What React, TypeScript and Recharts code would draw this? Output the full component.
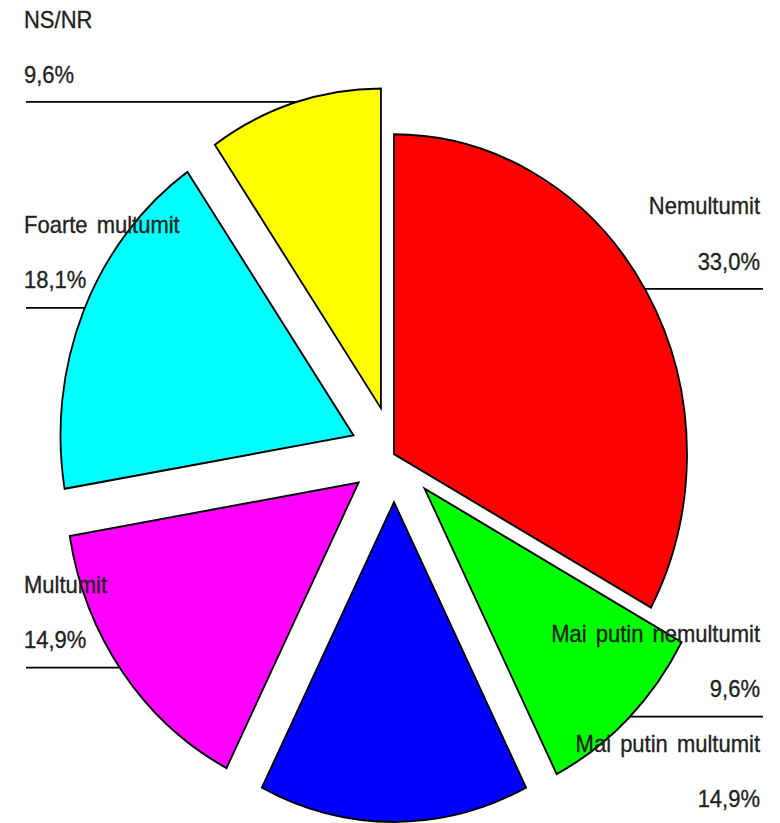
import { PieChart, Pie, Cell, Sector } from 'recharts';

const categories = [
  'Nemultumit',
  'Mai putin nemultumit',
  'Mai putin multumit',
  'Multumit',
  'Foarte multumit',
  'NS/NR',
];
const shares = [33.0, 9.6, 14.9, 14.9, 18.1, 9.6];
const colors = ['#ff0000', '#00ff00', '#0000ff', '#ff00ff', '#00ffff', '#ffff00'];

const data = categories.map((name, i) => ({ name, value: shares[i] }));

// the source image is stretched vertically, so the whole chart is drawn round and scaled
const STRETCH = 823 / 754;
const RAD = Math.PI / 180;
const EXPLODE = [0, 44, 44, 44, 44, 44];
const LABELS = [
  { side: 'right', lineY: 264.7 },
  { side: 'right', lineY: 656.6 },
  { side: 'right', lineY: 757 },
  { side: 'left', lineY: 611.7 },
  { side: 'left', lineY: 282 },
  { side: 'left', lineY: 93.4 },
];

const indexOf = (p: any) => categories.indexOf(p.payload?.name ?? p.name);

const shift = (i: number, midAngle: number) => ({
  dx: EXPLODE[i] * Math.cos(-midAngle * RAD),
  dy: EXPLODE[i] * Math.sin(-midAngle * RAD),
});

const fmt = (v: number) => v.toFixed(1).replace('.', ',') + '%';

const renderShape = (p: any) => {
  const { dx, dy } = shift(indexOf(p), p.midAngle);
  return <Sector {...p} cx={p.cx + dx} cy={p.cy + dy} />;
};

const renderLabel = (p: any) => {
  const i = indexOf(p);
  const { dx, dy } = shift(i, p.midAngle);
  const ccx = p.cx + dx;
  const ccy = p.cy + dy;
  const r = p.outerRadius;
  const L = LABELS[i];
  const h = Math.sqrt(Math.max(0, r * r - (L.lineY - ccy) ** 2));
  const left = L.side === 'left';
  const x1 = left ? 26 : ccx + h;
  const x2 = left ? ccx - h : 763;
  const tx = left ? 24 : 760;
  const textStyle = {
    fontFamily: '"Liberation Sans", Arial, sans-serif',
    fontSize: 22,
    fill: '#222',
    stroke: '#222',
    strokeWidth: 0.3,
  };
  return (
    <g key={`lbl-${i}`}>
      <line x1={x1} x2={x2} y1={L.lineY} y2={L.lineY} stroke="#000" strokeWidth={1.6} />
      <text
        x={tx}
        y={L.lineY - 74}
        textAnchor={left ? 'start' : 'end'}
        dominantBaseline="middle"
        wordSpacing={3}
        style={textStyle}
      >
        {categories[i]}
      </text>
      <text
        x={tx}
        y={L.lineY - 23.5}
        textAnchor={left ? 'start' : 'end'}
        dominantBaseline="middle"
        style={textStyle}
      >
        {fmt(shares[i])}
      </text>
    </g>
  );
};

export default function App() {
  return (
    <div
      style={{
        position: 'absolute',
        left: 0,
        top: 0,
        width: 780,
        height: 754,
        background: '#fff',
        transform: `scaleY(${STRETCH})`,
        transformOrigin: '0 0',
      }}
    >
      <PieChart width={780} height={754} margin={{ top: 0, right: 0, bottom: 0, left: 0 }}>
        <Pie
          data={data}
          dataKey="value"
          nameKey="name"
          cx={394}
          cy={416}
          outerRadius={293}
          startAngle={90}
          endAngle={-270}
          stroke="#000"
          strokeWidth={1.8}
          shape={renderShape}
          label={renderLabel}
          labelLine={false}
          isAnimationActive={false}
        >
          {data.map((d, i) => (
            <Cell key={d.name} fill={colors[i]} />
          ))}
        </Pie>
      </PieChart>
    </div>
  );
}
